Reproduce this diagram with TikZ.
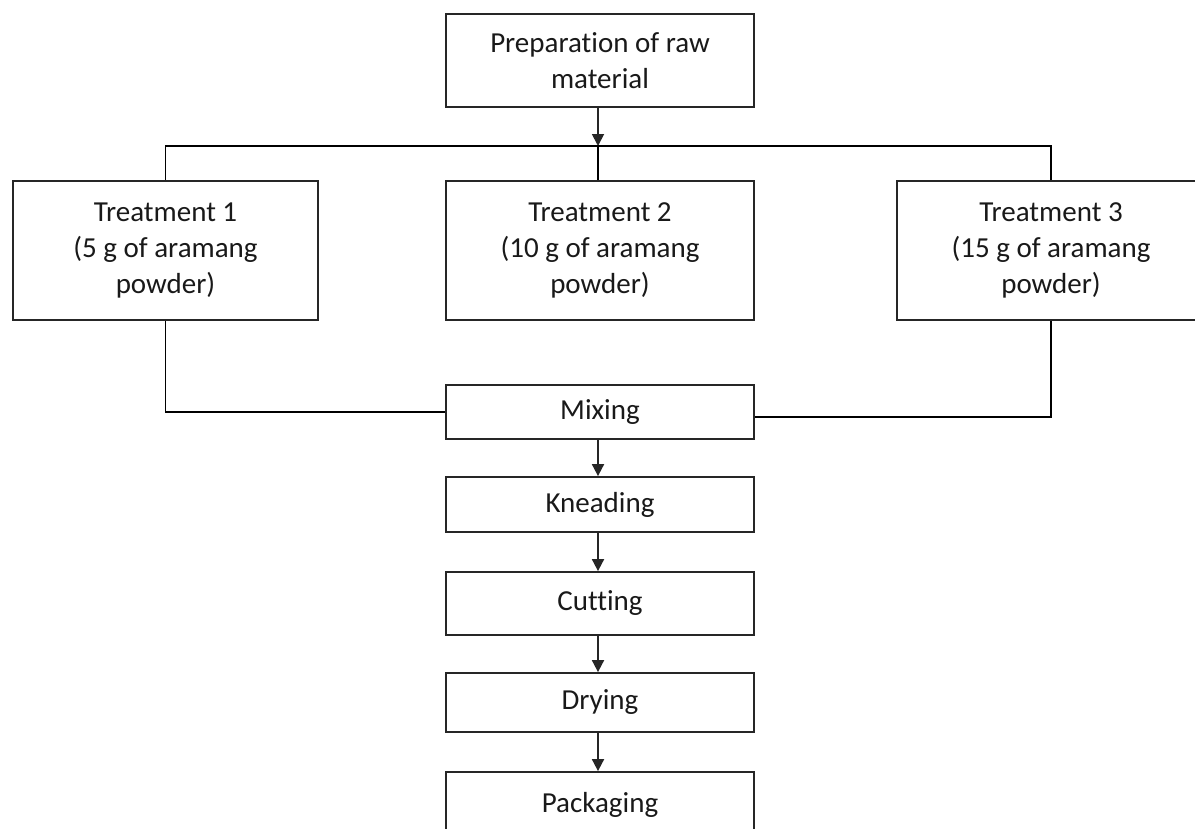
\documentclass[tikz,border=0pt]{standalone}
\usepackage{fontspec}
\setmainfont{Carlito}[Ligatures={NoCommon}]
\usetikzlibrary{arrows.meta}

\begin{document}
\begin{tikzpicture}
    [x=1pt,y=-1pt,line width=1.8pt,
     every node/.style={draw=black!85,line width=1.8pt,align=center,inner sep=0pt,
       font=\fontsize{29}{36}\selectfont,text=black!90},
     box/.style={minimum width=308pt},
     link/.style={draw=black!85,-{Triangle[length=12pt,width=12pt]}}]
    \useasboundingbox (0,0) rectangle (1195,828);

    \node[box,minimum height=93pt] (prep) at (600,60.5) {Preparation of raw\\material};
    \node[minimum width=305pt,minimum height=139pt] (t1) at (165.5,250.5) {Treatment 1\\(5 g of aramang\\powder)};
    \node[box,minimum height=139pt] (t2) at (600,250.5) {Treatment 2\\(10 g of aramang\\powder)};
    \node[box,minimum height=139pt] (t3) at (1051,250.5) {Treatment 3\\(15 g of aramang\\powder)};

    \node[box,minimum height=54pt] (mix) at (600,412) {Mixing};
    \node[box,minimum height=55pt] (knead) at (600,504.5) {Kneading};
    \node[box,minimum height=63pt] (cut) at (600,603.5) {Cutting};
    \node[box,minimum height=59pt] (dry) at (600,702.5) {Drying};
    \node[box,minimum height=66pt] (pack) at (600,805) {Packaging};

    \coordinate (split) at (598,146);

    \draw[link] (prep.south -| split) -- (split);
    \draw (t1.north) |- (split) -| (t3.north);
    \draw (split) -- (t2.north -| split);

    \draw (t1.south) |- (mix.west);
    \draw (t3.south) |- ([yshift=-5pt]mix.east);

    \draw[link] (mix.south -| split) -- (knead.north -| split);
    \draw[link] (knead.south -| split) -- (cut.north -| split);
    \draw[link] (cut.south -| split) -- (dry.north -| split);
    \draw[link] (dry.south -| split) -- (pack.north -| split);
  \end{tikzpicture}
\end{document}
